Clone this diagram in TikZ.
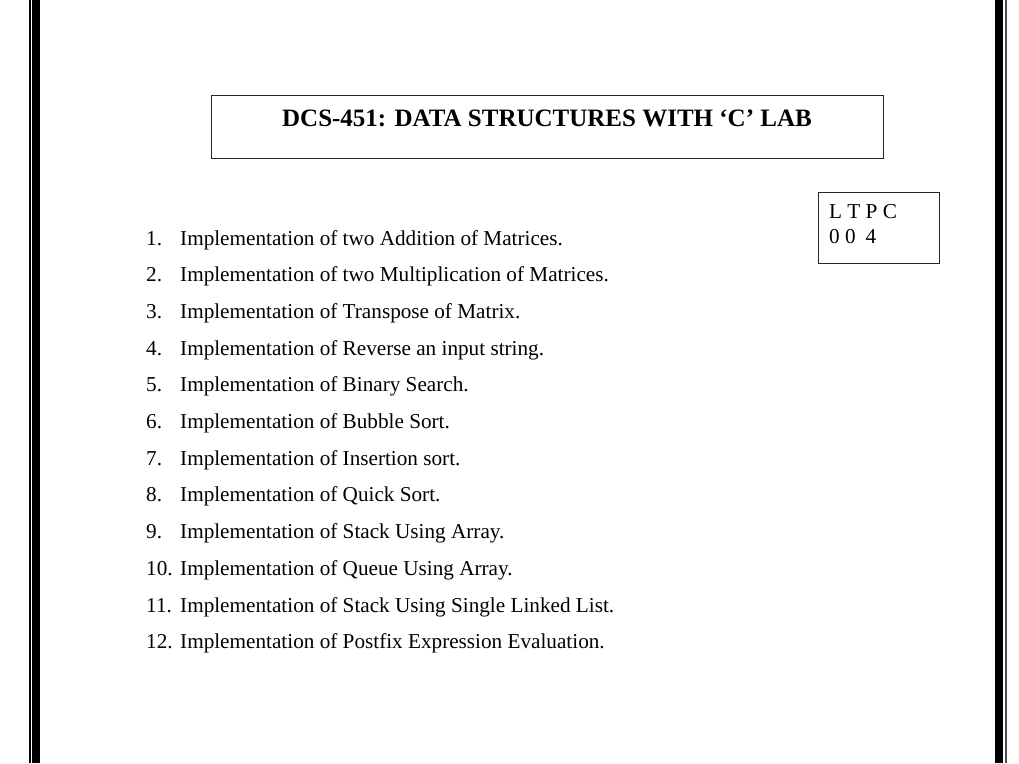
\documentclass[tikz,border=0pt]{standalone}
\usepackage{fontspec}
\setmainfont{Liberation Serif}
\begin{document}
\begin{tikzpicture}[x=1pt,y=-1pt,
  itemtxt/.style={anchor=base west,inner sep=0pt,font=\fontsize{21.2}{25}\selectfont},
  boxline/.style={draw=black!85,line width=1.4pt}]
\useasboundingbox (0,0) rectangle (1019,763);
\fill[white] (0,0) rectangle (1019,763);
% page borders
\fill[black] (28.5,0) rectangle (30.5,763);
\fill[black] (32.3,0) rectangle (40,763);
\fill[black] (995,0) rectangle (1003,763);
\fill[black!70] (1005,0) rectangle (1007,763);
% title box
\node[boxline,minimum width=672pt,minimum height=63pt,anchor=north west,inner sep=0pt] (title) at (211,95) {};
\node[anchor=base,inner sep=0pt,font=\fontsize{25}{30}\selectfont\bfseries] (titletxt) at (547,126) {DCS-451: DATA STRUCTURES WITH ‘C’ LAB};
% LTPC box
\node[boxline,minimum width=121pt,minimum height=71pt,anchor=north west,inner sep=0pt] (ltpc) at (818,192) {};
\node[itemtxt] (ltpc1) at (829,218) {L T P C};
\node[itemtxt] (ltpc2) at (829,243) {0 0\hspace{10pt}4};
% list
\foreach \n/\t [count=\i from 0] in {
 1./Implementation of two Addition of Matrices.,
 2./Implementation of two Multiplication of Matrices.,
 3./Implementation of Transpose of Matrix.,
 4./Implementation of Reverse an input string.,
 5./Implementation of Binary Search.,
 6./Implementation of Bubble Sort.,
 7./Implementation of Insertion sort.,
 8./Implementation of Quick Sort.,
 9./Implementation of Stack Using Array.,
 10./Implementation of Queue Using Array.,
 11./Implementation of Stack Using Single Linked List.,
 12./Implementation of Postfix Expression Evaluation.}{
  \node[itemtxt] (num\i) at (146,245+36.7*\i) {\n};
  \node[itemtxt] (txt\i) at (180,245+36.7*\i) {\t};
}
\end{tikzpicture}
\end{document}
